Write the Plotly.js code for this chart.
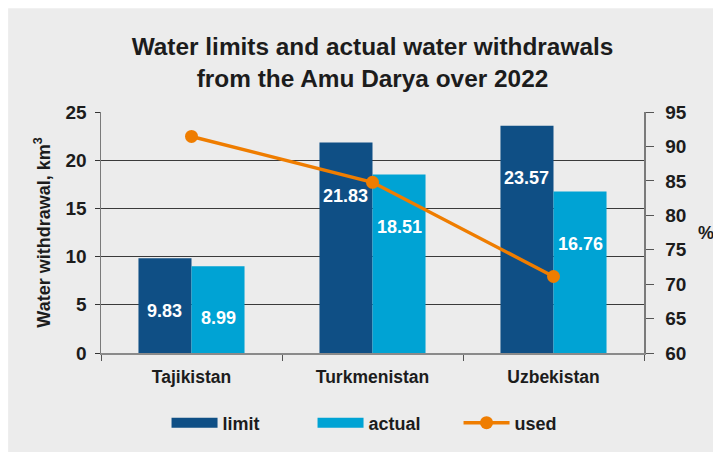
<!DOCTYPE html>
<html>
<head>
<meta charset="utf-8">
<script src="https://cdn.plot.ly/plotly-3.0.1.min.js"></script>
<style>html,body{margin:0;padding:0;background:#fff}#chart{width:713px;height:452px}</style>
</head>
<body>
<div id="chart"></div>
<script>
// ---- data ----
const countries = ['Tajikistan', 'Turkmenistan', 'Uzbekistan'];
const limitValues = [9.83, 21.83, 23.57];
const actualValues = [8.99, 18.51, 16.76];
const usedPercent = [91.45, 84.79, 71.11];
const leftTicks = [0, 5, 10, 15, 20, 25];
const rightTicks = [60, 65, 70, 75, 80, 85, 90, 95];
const titleText = 'Water limits and actual water withdrawals<br>from the Amu Darya over 2022';

// label placement (km3 level where each value label sits inside its bar)
const limitLabelLevel = [4.4, 16.3, 18.2];
const actualLabelLevel = [3.6, 13.1, 11.3];

const cLimit = '#0f4f85';
const cActual = '#00a3d4';
const cUsed = '#ef7d00';
const txt = '#1c1c1c';
const F = 'Liberation Sans, Arial, sans-serif';
const bargap = 0.414;
const off = (1 - bargap) / 4;

const traces = [
  {type: 'bar', x: countries, y: limitValues, name: 'limit', marker: {color: cLimit}, showlegend: false, hoverinfo: 'none'},
  {type: 'bar', x: countries, y: actualValues, name: 'actual', marker: {color: cActual}, showlegend: false, hoverinfo: 'none'},
  {type: 'scatter', mode: 'lines+markers', x: countries, y: usedPercent, yaxis: 'y2', name: 'used',
   line: {color: cUsed, width: 3.5}, marker: {color: cUsed, size: 13}, showlegend: false, hoverinfo: 'none'},
  // legend entries
  {type: 'scatter', mode: 'lines', x: [null], y: [null], name: 'limit', line: {color: cLimit, width: 16}, hoverinfo: 'none'},
  {type: 'scatter', mode: 'lines', x: [null], y: [null], name: 'actual', line: {color: cActual, width: 16}, hoverinfo: 'none'},
  {type: 'scatter', mode: 'lines+markers', x: [null], y: [null], name: 'used', line: {color: cUsed, width: 3.5}, marker: {color: cUsed, size: 13}, hoverinfo: 'none'}
];

const annotations = [];
countries.forEach((c, i) => {
  annotations.push({xref: 'x', yref: 'y', x: i - off, y: limitLabelLevel[i], text: limitValues[i].toFixed(2),
    showarrow: false, font: {family: F, size: 18, color: '#ffffff', weight: 'bold'}});
  annotations.push({xref: 'x', yref: 'y', x: i + off, y: actualLabelLevel[i], text: actualValues[i].toFixed(2),
    showarrow: false, font: {family: F, size: 18, color: '#ffffff', weight: 'bold'}});
});
annotations.push({xref: 'paper', yref: 'paper', x: 1.132, y: 0.5, text: '%', showarrow: false,
  font: {family: F, size: 18, color: txt, weight: 'bold'}});

const layout = {
  width: 713, height: 452,
  margin: {l: 101, r: 69, t: 112, b: 98},
  paper_bgcolor: '#ffffff',
  plot_bgcolor: '#ececec',
  font: {family: F, color: txt},
  title: {text: titleText,
    font: {family: F, size: 24.4, color: txt, weight: 'bold'},
    x: 0.5, xref: 'paper', xanchor: 'center', y: 0.878, yanchor: 'middle'},
  barmode: 'group', bargap: bargap, bargroupgap: 0,
  xaxis: {type: 'category', tickson: 'boundaries', ticks: 'outside', ticklen: 6, tickcolor: '#555',
    showline: true, linecolor: '#8a8a8a', linewidth: 1.5, showgrid: false, ticklabelstandoff: 7,
    tickfont: {family: F, size: 17.5, color: txt, weight: 'bold'}, fixedrange: true},
  yaxis: {range: [0, 25], tickvals: leftTicks, ticks: 'outside', ticklen: 5, tickcolor: '#333',
    showline: true, linecolor: '#7a7a7a', linewidth: 1.5, showgrid: true, gridcolor: '#3a3a3a', gridwidth: 1,
    zeroline: false, ticklabelstandoff: 4,
    tickfont: {family: F, size: 19, color: txt, weight: 'bold'},
    title: {text: 'Water withdrawal, km<sup>3</sup>', font: {family: F, size: 18, color: txt, weight: 'bold'}, standoff: 10},
    fixedrange: true},
  yaxis2: {range: [60, 95], tickvals: rightTicks, overlaying: 'y', side: 'right', ticks: 'outside', ticklen: 8, tickcolor: '#555',
    showline: true, linecolor: '#7a7a7a', linewidth: 1.5, showgrid: false, zeroline: false, ticklabelstandoff: 8,
    tickfont: {family: F, size: 19, color: txt, weight: 'bold'}, fixedrange: true},
  legend: {orientation: 'h', x: 0.524, xanchor: 'center', y: -0.285, yanchor: 'middle', itemwidth: 46, entrywidth: 85,
    font: {family: F, size: 18, color: txt, weight: 'bold'}, bgcolor: 'rgba(0,0,0,0)'},
  shapes: [{type: 'rect', xref: 'paper', yref: 'paper', x0: -0.171, x1: 1.2, y0: -0.5, y1: 1.43,
    fillcolor: '#ececec', line: {width: 0}, layer: 'below'}],
  annotations: annotations,
  showlegend: true
};

Plotly.newPlot('chart', traces, layout, {displayModeBar: false, staticPlot: true});
</script>
</body>
</html>
